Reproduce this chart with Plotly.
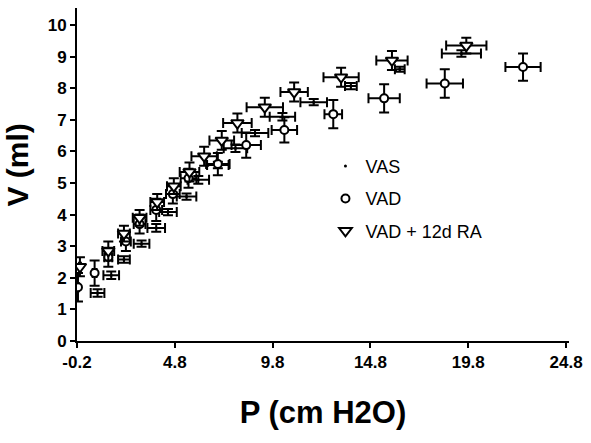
import plotly.graph_objects as go

# VAS (small dot)
vas_p = [0.85, 1.55, 2.2, 3.1, 3.85, 4.45, 5.4, 6.0, 7.0, 7.9, 8.9, 10.3, 11.9, 13.8, 16.3, 19.45]
vas_v = [1.52, 2.08, 2.58, 3.08, 3.58, 4.08, 4.57, 5.1, 5.57, 6.1, 6.58, 7.1, 7.56, 8.07, 8.6, 9.1]
vas_pe = [0.35, 0.4, 0.3, 0.4, 0.45, 0.45, 0.5, 0.55, 0.55, 0.6, 0.68, 0.65, 0.68, 0.3, 0.25, 1.0]
vas_ve = [0.12, 0.12, 0.1, 0.1, 0.12, 0.1, 0.1, 0.12, 0.1, 0.12, 0.1, 0.12, 0.1, 0.1, 0.08, 0.1]

# VAD (open circle)
vad_p = [-0.15, 0.7, 1.4, 2.3, 3.0, 3.85, 4.7, 5.5, 7.0, 8.45, 10.4, 12.9, 15.5, 18.6, 22.6]
vad_v = [1.7, 2.15, 2.65, 3.15, 3.7, 4.15, 4.65, 5.15, 5.6, 6.2, 6.68, 7.18, 7.68, 8.15, 8.67]
vad_pe = [0.05, 0.1, 0.2, 0.25, 0.3, 0.3, 0.35, 0.4, 0.6, 0.75, 0.65, 0.45, 0.8, 0.93, 0.9]
vad_ve = [0.45, 0.4, 0.3, 0.3, 0.3, 0.35, 0.3, 0.3, 0.35, 0.4, 0.4, 0.45, 0.45, 0.45, 0.43]

# VAD + 12d RA (open down-triangle)
ra_p = [-0.05, 1.4, 2.2, 3.0, 3.9, 4.75, 5.55, 6.3, 7.2, 8.0, 9.4, 10.9, 13.3, 15.9, 19.7]
ra_v = [2.35, 2.85, 3.4, 3.9, 4.4, 4.9, 5.35, 5.85, 6.35, 6.9, 7.4, 7.88, 8.35, 8.88, 9.35]
ra_pe = [0.05, 0.3, 0.3, 0.35, 0.35, 0.35, 0.5, 0.65, 0.63, 0.73, 0.93, 0.7, 0.9, 0.8, 1.03]
ra_ve = [0.3, 0.3, 0.25, 0.25, 0.25, 0.25, 0.3, 0.3, 0.3, 0.3, 0.3, 0.3, 0.3, 0.3, 0.25]

x_ticks = [-0.2, 4.8, 9.8, 14.8, 19.8, 24.8]
x_tick_labels = ["-0.2", "4.8", "9.8", "14.8", "19.8", "24.8"]
y_ticks = list(range(0, 11))

names = ["VAS", "VAD", "VAD + 12d RA"]

fig = go.Figure()

def err(arr):
    return dict(type="data", array=arr, visible=True, color="black", thickness=2, width=5)

fig.add_trace(go.Scatter(
    x=vas_p, y=vas_v, mode="markers", name=names[0], legendgroup="a",
    marker=dict(symbol="circle", size=3, color="black"),
    error_x=err(vas_pe), error_y=err(vas_ve)))
fig.add_trace(go.Scatter(
    x=vad_p, y=vad_v, mode="markers", name=names[1], legendgroup="b",
    marker=dict(symbol="circle", size=8, color="white", line=dict(width=2, color="black")),
    error_x=err(vad_pe), error_y=err(vad_ve)))
fig.add_trace(go.Scatter(
    x=ra_p, y=ra_v, mode="markers", name=names[2], legendgroup="c",
    marker=dict(symbol="triangle-down", size=11, color="white", line=dict(width=2, color="black")),
    error_x=err(ra_pe), error_y=err(ra_ve)))

font_family = "Liberation Sans, Arial, sans-serif"

fig.update_layout(
    width=591, height=443,
    margin=dict(l=77, r=16, t=8, b=102),
    paper_bgcolor="white", plot_bgcolor="white",
    font=dict(family=font_family, color="black"),
    showlegend=True,
    legend=dict(x=0.505, y=0.58, xanchor="left", yanchor="top",
                font=dict(size=18, family=font_family, color="black"),
                bgcolor="rgba(0,0,0,0)", tracegroupgap=6,
                traceorder="grouped", itemwidth=30),
    xaxis=dict(range=[-0.2, 24.95], tickvals=x_ticks, ticktext=x_tick_labels,
               showline=True, linecolor="black", linewidth=2, ticks="outside",
               tickwidth=2, ticklen=5, tickcolor="black", showgrid=False, zeroline=False,
               tickfont=dict(size=17, family=font_family, color="black", weight="bold"),
               title=dict(text="<b>P (cm H2O)</b>", font=dict(size=31, family=font_family), standoff=30)),
    yaxis=dict(range=[0, 10.54], tickvals=y_ticks,
               showline=True, linecolor="black", linewidth=2, ticks="outside",
               tickwidth=2, ticklen=5, tickcolor="black", showgrid=False, zeroline=False,
               tickfont=dict(size=17, family=font_family, color="black", weight="bold")),
    annotations=[dict(text="<b>V (ml)</b>", textangle=-90, showarrow=False,
                      xref="paper", yref="paper", x=-0.12, y=0.53,
                      xanchor="center", yanchor="middle",
                      font=dict(size=30, family=font_family, color="black"))],
)

fig.write_html("out.html", config={"displayModeBar": False},
               post_script="document.body.style.margin='0px';")
